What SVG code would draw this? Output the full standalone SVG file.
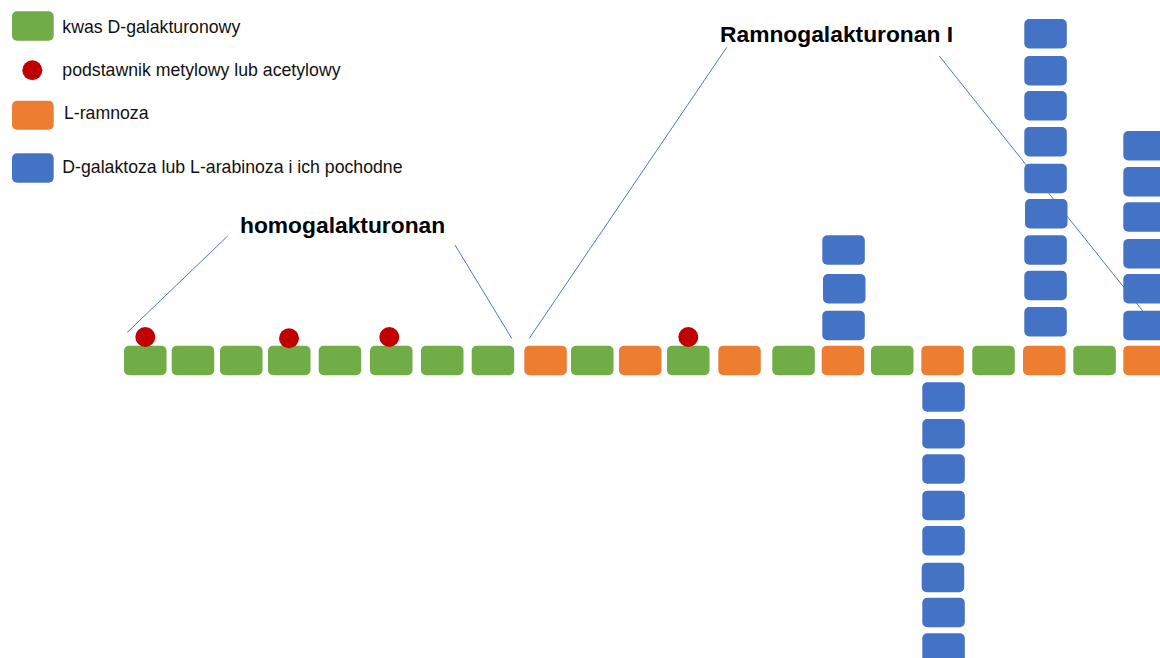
<svg xmlns="http://www.w3.org/2000/svg" width="1160" height="658" viewBox="0 0 1160 658">
  <style>
    .ga { fill: #70AD47; }
    .rh { fill: #ED7D31; }
    .gl { fill: #4472C4; }
    .me { fill: #C00000; }
    .lbl { font-family: "Liberation Sans", Arial, sans-serif; font-size: 17.7px; fill: #111; }
    .ttl { font-family: "Liberation Sans", Arial, sans-serif; font-size: 22.8px; font-weight: bold; fill: #000; }
    .lead { stroke: #4A78CB; stroke-width: 1; fill: none; }
  </style>
  <defs>
    <rect id="u" width="42.5" height="29.5" rx="5" ry="5"/>
  </defs>
  <rect width="1160" height="658" fill="#fff"/>

  <!-- legend -->
  <g id="legend">
    <rect class="ga" x="12" y="11.3" width="41.7" height="29.4" rx="5"/>
    <text class="lbl" x="62.3" y="32.7">kwas D-galakturonowy</text>
    <circle class="me" cx="32.3" cy="70.3" r="10"/>
    <text class="lbl" x="62.3" y="76">podstawnik metylowy lub acetylowy</text>
    <rect class="rh" x="12" y="100.7" width="41.7" height="29" rx="5"/>
    <text class="lbl" x="64" y="118.7">L-ramnoza</text>
    <rect class="gl" x="12" y="153.3" width="41.7" height="29.4" rx="5"/>
    <text class="lbl" x="62.3" y="172.7">D-galaktoza lub L-arabinoza i ich pochodne</text>
  </g>

  <!-- leader lines for the region labels (behind residues) -->
  <g id="connectors">
    <line class="lead" x1="127.3" y1="332.3" x2="227.7" y2="236"/>
    <line class="lead" x1="455" y1="245" x2="511.7" y2="338.3"/>
    <line class="lead" x1="529.3" y1="338.3" x2="726.7" y2="47.3"/>
    <line class="lead" x1="939.3" y1="56" x2="1143.3" y2="311.7"/>
  </g>

  <!-- region labels -->
  <g id="label-hg">
    <text class="ttl" x="240" y="232.7">homogalakturonan</text>
  </g>
  <g id="label-rg">
    <text class="ttl" x="720" y="42.3">Ramnogalakturonan I</text>
  </g>

  <!-- backbone -->
  <g id="backbone">
    <use href="#u" class="ga" x="124" y="345.7"/>
    <use href="#u" class="ga" x="171.7" y="345.7"/>
    <use href="#u" class="ga" x="220" y="345.7"/>
    <use href="#u" class="ga" x="268" y="345.7"/>
    <use href="#u" class="ga" x="318.7" y="345.7"/>
    <use href="#u" class="ga" x="370" y="345.7"/>
    <use href="#u" class="ga" x="421" y="345.7"/>
    <use href="#u" class="ga" x="471.7" y="345.7"/>
    <use href="#u" class="rh" x="524.3" y="345.7"/>
    <use href="#u" class="ga" x="571" y="345.7"/>
    <use href="#u" class="rh" x="619" y="345.7"/>
    <use href="#u" class="ga" x="667" y="345.7"/>
    <use href="#u" class="rh" x="718.3" y="345.7"/>
    <use href="#u" class="ga" x="772.3" y="345.7"/>
    <use href="#u" class="rh" x="821.7" y="345.7"/>
    <use href="#u" class="ga" x="871" y="345.7"/>
    <use href="#u" class="rh" x="921.3" y="345.7"/>
    <use href="#u" class="ga" x="972.3" y="345.7"/>
    <use href="#u" class="rh" x="1023" y="345.7"/>
    <use href="#u" class="ga" x="1073.3" y="345.7"/>
    <use href="#u" class="rh" x="1123.3" y="345.7"/>
  </g>

  <!-- methyl / acetyl substituents -->
  <g id="substituents">
    <circle class="me" cx="145.3" cy="337" r="10"/>
    <circle class="me" cx="289" cy="338.3" r="10"/>
    <circle class="me" cx="389.3" cy="337" r="10"/>
    <circle class="me" cx="688.3" cy="337" r="10"/>
  </g>

  <!-- side chain on rhamnose at x=822 -->
  <g id="side-1">
    <use href="#u" class="gl" x="822.3" y="235.3"/>
    <use href="#u" class="gl" x="823" y="274"/>
    <use href="#u" class="gl" x="822.3" y="310.7"/>
  </g>

  <!-- side chain below rhamnose at x=921 -->
  <g id="side-2">
    <use href="#u" class="gl" x="922.3" y="382.3"/>
    <use href="#u" class="gl" x="922.3" y="419"/>
    <use href="#u" class="gl" x="922.3" y="454.3"/>
    <use href="#u" class="gl" x="922.3" y="490.7"/>
    <use href="#u" class="gl" x="922.3" y="526"/>
    <use href="#u" class="gl" x="921.7" y="562.7"/>
    <use href="#u" class="gl" x="922.3" y="597.7"/>
    <use href="#u" class="gl" x="922.3" y="633.3"/>
  </g>

  <!-- side chain on rhamnose at x=1023 -->
  <g id="side-3">
    <use href="#u" class="gl" x="1024.3" y="19"/>
    <use href="#u" class="gl" x="1024.3" y="56"/>
    <use href="#u" class="gl" x="1024.3" y="91"/>
    <use href="#u" class="gl" x="1024.3" y="127"/>
    <use href="#u" class="gl" x="1024.3" y="163.7"/>
    <use href="#u" class="gl" x="1025" y="199"/>
    <use href="#u" class="gl" x="1024.3" y="235.3"/>
    <use href="#u" class="gl" x="1024.3" y="270.7"/>
    <use href="#u" class="gl" x="1024.3" y="307"/>
  </g>

  <!-- side chain on rhamnose at x=1123 -->
  <g id="side-4">
    <use href="#u" class="gl" x="1123.3" y="131"/>
    <use href="#u" class="gl" x="1123.3" y="167"/>
    <use href="#u" class="gl" x="1123.3" y="202.3"/>
    <use href="#u" class="gl" x="1123.3" y="239"/>
    <use href="#u" class="gl" x="1123.3" y="274"/>
    <use href="#u" class="gl" x="1123.3" y="310.7"/>
  </g>
</svg>
